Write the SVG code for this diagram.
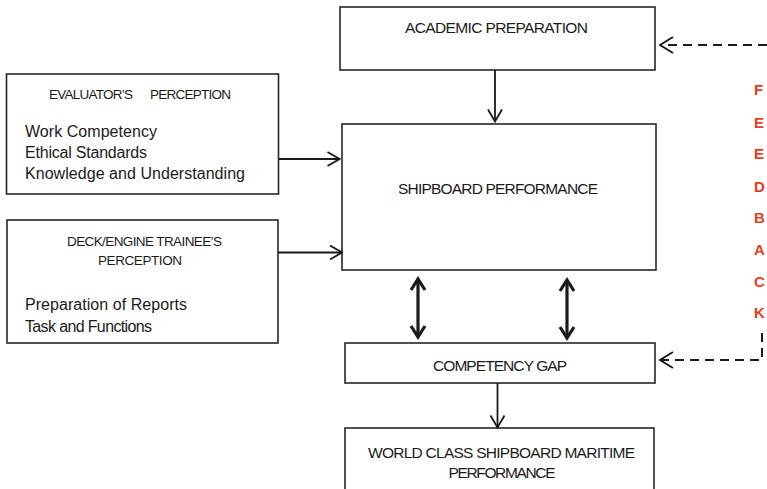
<svg xmlns="http://www.w3.org/2000/svg" width="767" height="489" viewBox="0 0 767 489">
<style>
.box{fill:#fff;stroke:#262626;stroke-width:1.6}
.t{font-family:"Liberation Sans",Arial,sans-serif;fill:#1a1a1a}
.cap{font-size:15.5px}
.sm{font-size:13.5px}
.body{font-size:16px}
.ln{stroke:#1a1a1a;stroke-width:1.8;fill:none}
.thick{stroke:#1a1a1a;stroke-width:3.2;fill:none}
.dash{stroke:#1a1a1a;stroke-width:2;fill:none;stroke-dasharray:9 6}
.red{font-family:"Liberation Sans",Arial,sans-serif;font-weight:bold;font-size:15px;fill:#e5401e}
</style>
<defs>
<marker id="ah" markerUnits="userSpaceOnUse" viewBox="-1 -1 14 16" refX="11.5" refY="7" markerWidth="14" markerHeight="16" orient="auto-start-reverse">
<path d="M0,0 L12,7 L0,14" fill="none" stroke="#1a1a1a" stroke-width="1.8"/>
</marker>
<marker id="ahb" markerUnits="userSpaceOnUse" viewBox="-2 -2 16 18" refX="11" refY="7" markerWidth="16" markerHeight="18" orient="auto-start-reverse">
<path d="M0,0 L11,7 L0,14" fill="none" stroke="#1a1a1a" stroke-width="3.2"/>
</marker>
<marker id="ahd" markerUnits="userSpaceOnUse" viewBox="-1 -1 15 18" refX="12" refY="8" markerWidth="15" markerHeight="18" orient="auto-start-reverse">
<path d="M0,0 L13,8 L0,16" fill="none" stroke="#1a1a1a" stroke-width="2"/>
</marker>
</defs>

<g id="academic">
<rect class="box" x="340" y="7" width="315" height="63"/>
<text class="t cap" x="496.5" y="33" text-anchor="middle" textLength="183">ACADEMIC PREPARATION</text>
</g>

<g id="evaluator">
<rect class="box" x="6.5" y="74" width="272" height="120"/>
<text class="t sm" x="49" y="99" textLength="84">EVALUATOR’S</text>
<text class="t sm" x="150" y="99" textLength="81">PERCEPTION</text>
<text class="t body" x="25" y="137" textLength="132">Work Competency</text>
<text class="t body" x="25" y="158" textLength="122">Ethical Standards</text>
<text class="t body" x="25" y="179" textLength="220">Knowledge and Understanding</text>
</g>

<g id="trainee">
<rect class="box" x="7" y="220" width="271" height="123"/>
<text class="t sm" x="144.5" y="246" text-anchor="middle" textLength="155">DECK/ENGINE TRAINEE’S</text>
<text class="t sm" x="140" y="265" text-anchor="middle" textLength="84">PERCEPTION</text>
<text class="t body" x="25" y="310" textLength="162">Preparation of Reports</text>
<text class="t body" x="25" y="332" textLength="127">Task and Functions</text>
</g>

<g id="shipboard">
<rect class="box" x="342" y="124" width="314" height="146"/>
<text class="t cap" x="498" y="194" text-anchor="middle" textLength="200">SHIPBOARD PERFORMANCE</text>
</g>

<g id="gap">
<rect class="box" x="345" y="343" width="310" height="40"/>
<text class="t cap" x="500" y="371" text-anchor="middle" textLength="134">COMPETENCY GAP</text>
</g>

<g id="worldclass">
<rect class="box" x="345" y="428" width="309" height="70"/>
<text class="t cap" x="501.5" y="458" text-anchor="middle" textLength="267">WORLD CLASS SHIPBOARD MARITIME</text>
<text class="t cap" x="502" y="478" text-anchor="middle" textLength="107">PERFORMANCE</text>
</g>

<g id="feedback">
<text class="red" x="754" y="95">F</text>
<text class="red" x="754" y="128">E</text>
<text class="red" x="754" y="159">E</text>
<text class="red" x="754" y="192">D</text>
<text class="red" x="754" y="223">B</text>
<text class="red" x="754" y="255">A</text>
<text class="red" x="754" y="287">C</text>
<text class="red" x="754" y="318">K</text>
</g>

<g id="connectors">
<line class="ln" x1="495" y1="70" x2="495" y2="121" marker-end="url(#ah)"/>
<line class="ln" x1="278.5" y1="159" x2="339" y2="159" marker-end="url(#ah)"/>
<line class="ln" x1="278" y1="252.5" x2="341.5" y2="252.5" marker-end="url(#ah)"/>
<line class="thick" x1="418" y1="279" x2="418" y2="337" marker-start="url(#ahb)" marker-end="url(#ahb)"/>
<line class="thick" x1="567" y1="280" x2="567" y2="338" marker-start="url(#ahb)" marker-end="url(#ahb)"/>
<line class="ln" x1="497.5" y1="383" x2="497.5" y2="427" marker-end="url(#ah)"/>
<line class="dash" x1="767" y1="45" x2="661" y2="45" marker-end="url(#ahd)"/>
<path class="dash" d="M762,333 L762,360 L661,360" marker-end="url(#ahd)"/>
</g>
</svg>
